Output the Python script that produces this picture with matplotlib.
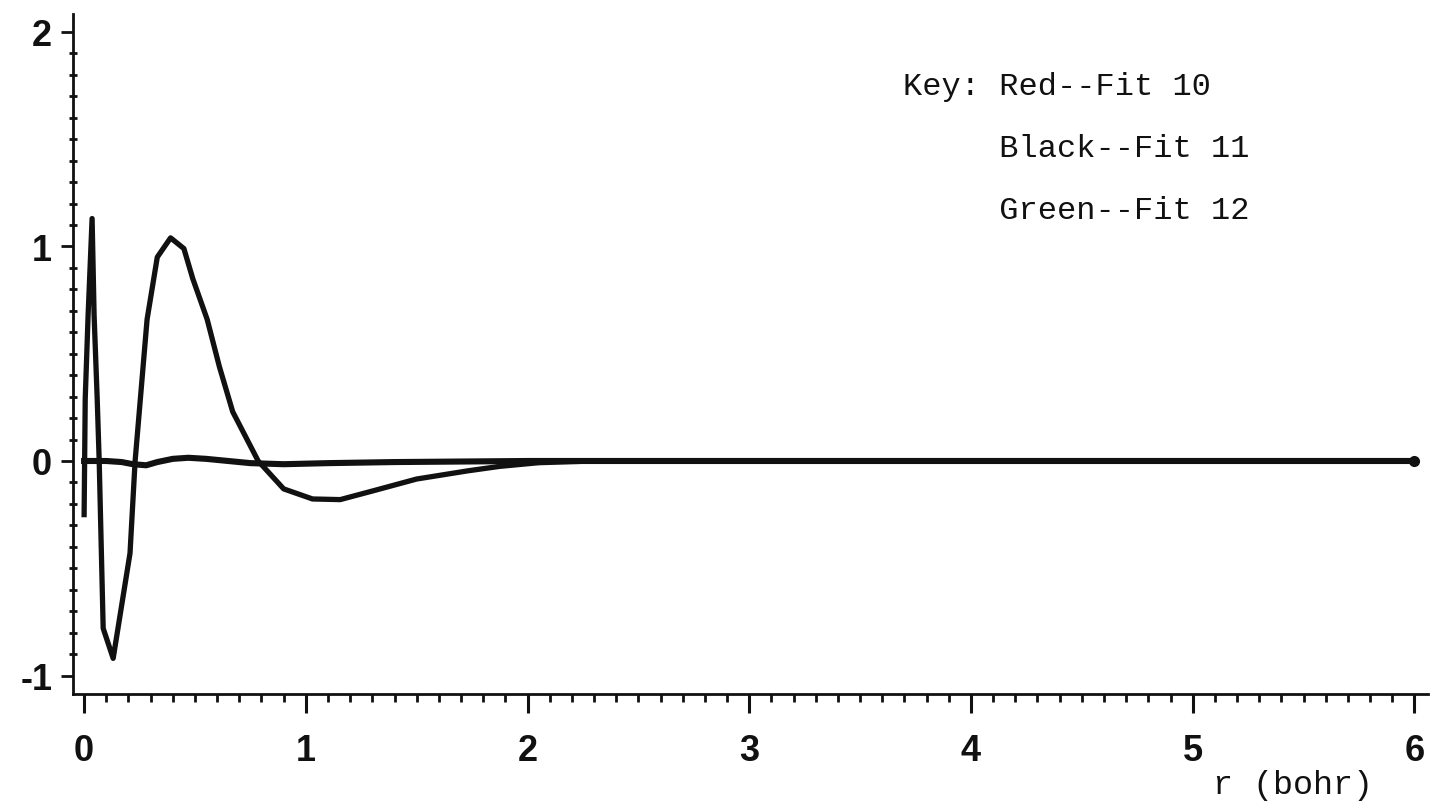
import matplotlib
matplotlib.use("Agg")
import matplotlib.pyplot as plt
from matplotlib.ticker import MultipleLocator

# radial grid (bohr) and fitted values, oscillating fit
r_osc = [0.0, 0.005, 0.018, 0.036, 0.045, 0.059, 0.068, 0.086, 0.131, 0.207,
         0.23, 0.284, 0.33, 0.39, 0.45, 0.49, 0.555, 0.61, 0.67, 0.785,
         0.90, 1.03, 1.155, 1.30, 1.50, 1.73, 1.875, 2.05, 2.3, 3.0, 4.0, 5.0, 6.0]
v_osc = [-0.25, 0.29, 0.68, 1.13, 0.68, 0.29, 0.0, -0.78, -0.92, -0.43,
         0.0, 0.66, 0.95, 1.04, 0.99, 0.85, 0.66, 0.44, 0.23, 0.0,
         -0.13, -0.177, -0.18, -0.14, -0.084, -0.046, -0.025, -0.008, 0.0, 0.0, 0.0, 0.0, 0.0]

# nearly flat fit
r_flat = [0.0, 0.1, 0.17, 0.22, 0.28, 0.33, 0.4, 0.47, 0.55, 0.65, 0.75,
          0.9, 1.1, 1.4, 2.0, 3.0, 4.0, 5.0, 6.0]
v_flat = [0.0, 0.0, -0.005, -0.015, -0.02, -0.005, 0.01, 0.015, 0.01, 0.0, -0.01,
          -0.015, -0.01, -0.005, 0.0, 0.0, 0.0, 0.0, 0.0]

key_lines = ["Key: Red--Fit 10", "     Black--Fit 11", "     Green--Fit 12"]
xticks = [0, 1, 2, 3, 4, 5, 6]
yticks = [-1, 0, 1, 2]
ytick_labels = ["-1", "0", "1", "2"]

INK = "#111111"
LABEL_FONT = ["Liberation Sans", "DejaVu Sans"]
MONO_FONT = ["Liberation Mono", "DejaVu Sans Mono"]

fig = plt.figure(figsize=(14.32, 8.03), dpi=100, facecolor="white")
ax = fig.add_axes([0.051, 0.1345, 0.946, 0.847])

ax.plot(r_osc, v_osc, color=INK, linewidth=3.8, solid_joinstyle="round")
ax.plot(r_flat, v_flat, color=INK, linewidth=4.4)
ax.plot([r_flat[-1]], [v_flat[-1]], "o", color=INK, markersize=7)

ax.set_xlim(-0.05, 6.06)
ax.set_ylim(-1.086, 2.084)

for side in ("top", "right"):
    ax.spines[side].set_visible(False)
for side in ("left", "bottom"):
    ax.spines[side].set_linewidth(2.0)
    ax.spines[side].set_color(INK)

ax.set_xticks(xticks)
ax.set_yticks(yticks)
ax.set_yticklabels(ytick_labels)
ax.xaxis.set_minor_locator(MultipleLocator(0.1))
ax.yaxis.set_minor_locator(MultipleLocator(0.1))
ax.tick_params(axis="x", which="major", direction="out", length=14, width=2.2,
               color=INK, pad=14)
ax.tick_params(axis="x", which="minor", direction="out", length=6, width=2.0, color=INK)
ax.tick_params(axis="y", which="major", direction="out", length=9, width=2.0,
               color=INK, pad=6)
ax.tick_params(axis="y", which="minor", direction="inout", length=6, width=2.0, color=INK)

for lab in ax.get_xticklabels() + ax.get_yticklabels():
    lab.set_family(LABEL_FONT)
    lab.set_fontweight("bold")
    lab.set_fontsize(26)
    lab.set_color(INK)

# key block in typewriter style
for i, line in enumerate(key_lines):
    fig.text(903 / 1432, 1 - (87 + 62 * i) / 803, line, family=MONO_FONT,
             fontsize=23, color=INK, ha="left", va="center")

fig.text(1213 / 1432, 1 - 786 / 803, "r (bohr)", family=MONO_FONT,
         fontsize=24, color=INK, ha="left", va="center")

fig.savefig("out.png", dpi=100, facecolor="white")
